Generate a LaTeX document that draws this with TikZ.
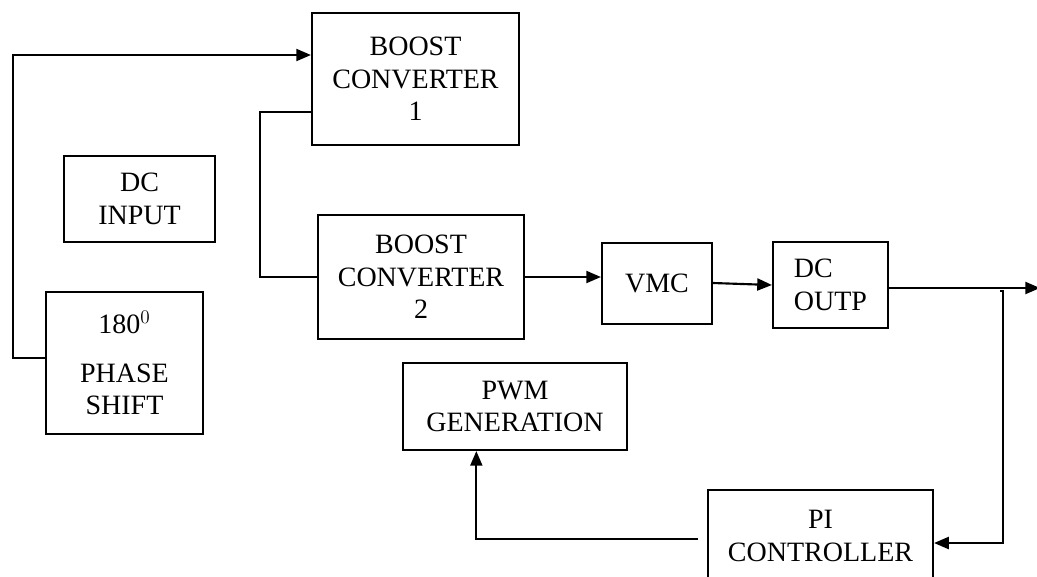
\documentclass[tikz,border=0pt]{standalone}
\usepackage{fontspec}
\setmainfont{Liberation Serif}
\usepackage{tikz}
\usetikzlibrary{arrows.meta,positioning}

\begin{document}
\begin{tikzpicture}[x=0.75pt,y=-0.75pt,
box/.style={draw,line width=1.6pt,inner sep=0pt,align=center,
  font=\fontsize{21}{24.5}\selectfont},
arr/.style={-{Triangle[length=11pt,width=9pt]},line width=1.6pt},
lnk/.style={line width=1.6pt}]
\useasboundingbox (0,0) rectangle (1037,576);
\node[box,minimum width=207*0.75pt,minimum height=132*0.75pt] (BC1) at (415.5,79) {BOOST\\CONVERTER\\1};
\node[box,minimum width=151*0.75pt,minimum height=86*0.75pt] (DCIN) at (139.5,199) {DC\\INPUT};
\node[box,minimum width=157*0.75pt,minimum height=142*0.75pt] (PS) at (124.5,363) {180$^0$\\[12pt]PHASE\\SHIFT};
\node[box,minimum width=206*0.75pt,minimum height=124*0.75pt] (BC2) at (421,277) {BOOST\\CONVERTER\\2};
\node[box,minimum width=110*0.75pt,minimum height=81*0.75pt] (VMC) at (657,283.5) {VMC};
\node[box,align=left,minimum width=115*0.75pt,minimum height=86*0.75pt] (OUT) at (830.5,285) {DC\\OUTP};
\node[box,minimum width=224*0.75pt,minimum height=87*0.75pt] (PWM) at (515,406.5) {PWM\\GENERATION};
\node[box,minimum width=225*0.75pt,minimum height=92*0.75pt] (PI) at (820.5,536) {PI\\CONTROLLER};
\coordinate (load) at (1040,288);
\coordinate (tap) at (1003,291);
% phase shifted drive to converter 1
\draw[arr] (PS.west |- 0,358) -- (13,358) |- (BC1.west |- 0,55);
\draw[lnk] (BC1.west |- 0,112) -- (260,112) |- (BC2.west |- 0,277);
\draw[arr] (BC2.east |- 0,277) -- (VMC.west |- 0,277);
\draw[arr] (VMC.east |- 0,283) -- (OUT.west |- 0,285);
\draw[arr] (OUT.east |- 0,288) -- (load);
% feedback loop
\draw[arr] ([xshift=-2pt]tap) -- (tap) |- (PI.east |- 0,543);
\draw[arr] ([xshift=-7pt]PI.west |- 0,539) -| ([xshift=-29pt]PWM.south);
\end{tikzpicture}
\end{document}
